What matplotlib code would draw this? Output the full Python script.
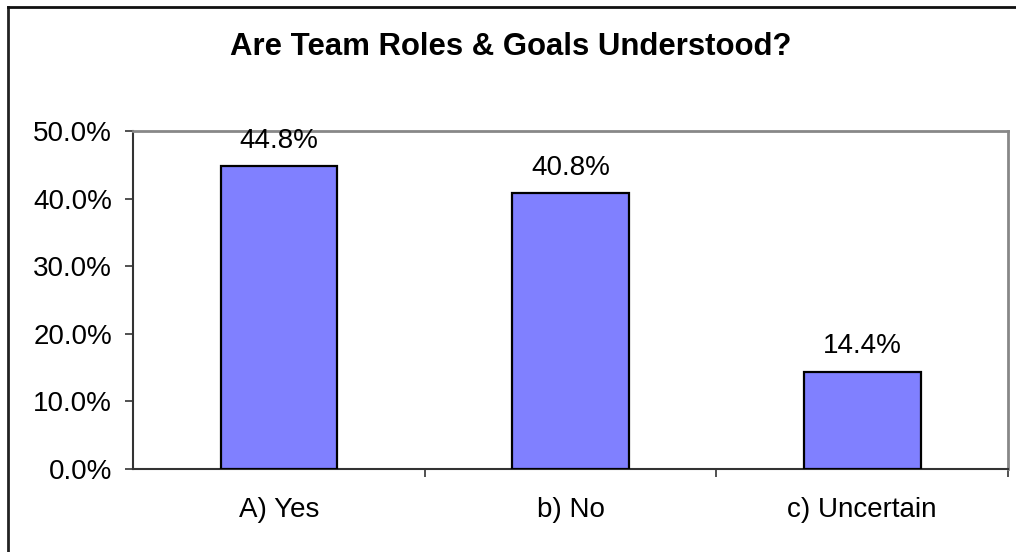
import matplotlib
matplotlib.use("Agg")
import matplotlib.pyplot as plt
from matplotlib.lines import Line2D
from matplotlib.ticker import FixedLocator

plt.rcParams['font.family'] = ['Liberation Sans', 'DejaVu Sans']

categories = ["A) Yes", "b) No", "c) Uncertain"]
values = [44.8, 40.8, 14.4]
value_labels = ["44.8%", "40.8%", "14.4%"]
y_ticks = [0, 10, 20, 30, 40, 50]
y_tick_labels = ["0.0%", "10.0%", "20.0%", "30.0%", "40.0%", "50.0%"]
title = "Are Team Roles & Goals Understood?"

W, H = 1016, 552
fig = plt.figure(figsize=(W / 100, H / 100), dpi=100)
fig.patch.set_facecolor("white")

# outer frame (top and left visible)
fig.add_artist(Line2D([8 / W, 8 / W], [0, 1 - 7 / H], transform=fig.transFigure,
                      color="#222222", lw=2.0))
fig.add_artist(Line2D([8 / W, 1], [1 - 7 / H, 1 - 7 / H], transform=fig.transFigure,
                      color="#111111", lw=2.0))

left, right, top, bottom = 133, 1008, 131, 469
ax = fig.add_axes([left / W, 1 - bottom / H, (right - left) / W, (bottom - top) / H])

x = list(range(len(categories)))
ax.bar(x, values, width=0.4, color="#8080FF", edgecolor="black", linewidth=1.6, zorder=3)
ax.set_xlim(-0.5, len(categories) - 0.5)
ax.set_ylim(0, 50)

for xi, v, lab in zip(x, values, value_labels):
    ax.annotate(lab, (xi, v), xytext=(0, 9), textcoords="offset points",
                ha="center", va="bottom", fontsize=20, color="black")

ax.set_yticks(y_ticks)
ax.set_yticklabels(y_tick_labels, fontsize=20)
ax.xaxis.set_major_locator(FixedLocator(x))
ax.set_xticklabels(categories, fontsize=20)
ax.xaxis.set_minor_locator(FixedLocator([0.5, 1.5, 2.5]))
ax.tick_params(axis="x", which="major", length=0, pad=20)
ax.tick_params(axis="x", which="minor", length=6, width=1.2, color="#333333", direction="out")
ax.tick_params(axis="y", length=6, width=1.2, color="#333333", direction="out", pad=9)

for side in ["top", "right"]:
    ax.spines[side].set_color("#888888")
    ax.spines[side].set_linewidth(2.0)
ax.spines["left"].set_color("#333333")
ax.spines["left"].set_linewidth(1.5)
ax.spines["bottom"].set_color("#333333")
ax.spines["bottom"].set_linewidth(1.5)

fig.text(511 / W, 1 - 47 / H, title, ha="center", va="center",
         fontsize=22.4, fontweight="bold", color="black")

fig.savefig("out.png", dpi=100)
